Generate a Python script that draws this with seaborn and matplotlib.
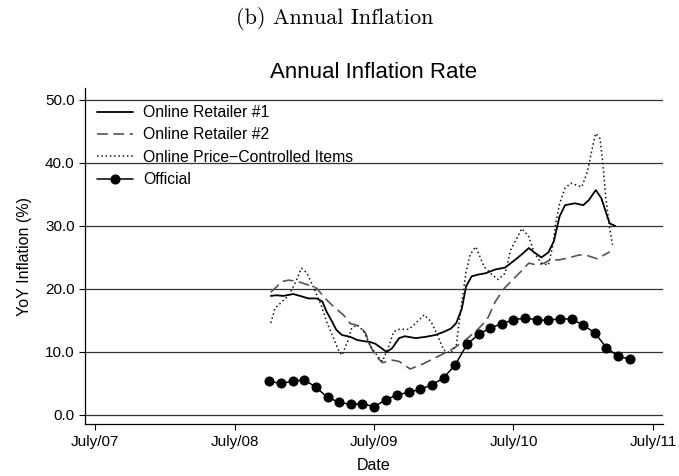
import numpy as np
import pandas as pd
import matplotlib
matplotlib.use("Agg")
import matplotlib.pyplot as plt
import seaborn as sns

# ---------------- data (decimal years, YoY %) ----------------
r1_t = [2008.76, 2008.80, 2008.85, 2008.92, 2008.97, 2009.03, 2009.09, 2009.13, 2009.16, 2009.20,
        2009.23, 2009.27, 2009.33, 2009.38, 2009.43, 2009.47, 2009.51, 2009.56, 2009.59, 2009.63,
        2009.68, 2009.72, 2009.80, 2009.87, 2009.94, 2009.99, 2010.05, 2010.09, 2010.13, 2010.16,
        2010.20, 2010.25, 2010.30, 2010.37, 2010.44, 2010.51, 2010.56, 2010.61, 2010.65, 2010.70,
        2010.75, 2010.79, 2010.83, 2010.87, 2010.94, 2011.00, 2011.04, 2011.09, 2011.13, 2011.17,
        2011.19, 2011.23]
r1_v = [18.9, 19.0, 18.9, 19.2, 18.9, 18.5, 18.5, 18.0, 16.4, 14.8,
        13.5, 12.7, 12.4, 11.9, 11.7, 11.6, 11.3, 10.5, 10.0, 10.6,
        12.2, 12.5, 12.2, 12.4, 12.7, 13.1, 13.7, 14.6, 16.9, 20.4,
        22.0, 22.3, 22.5, 23.1, 23.4, 24.6, 25.5, 26.5, 25.8, 25.0,
        25.8, 27.6, 31.5, 33.3, 33.6, 33.3, 34.1, 35.7, 34.4, 31.7,
        30.4, 30.0]

r2_t = [2008.76, 2008.80, 2008.84, 2008.89, 2008.95, 2009.02, 2009.09, 2009.15, 2009.21, 2009.28,
        2009.33, 2009.37, 2009.40, 2009.44, 2009.47, 2009.51, 2009.56, 2009.63, 2009.68, 2009.76,
        2009.86, 2009.95, 2010.05, 2010.14, 2010.24, 2010.31, 2010.37, 2010.43, 2010.50, 2010.55,
        2010.61, 2010.67, 2010.72, 2010.77, 2010.82, 2010.89, 2010.97, 2011.03, 2011.10, 2011.15,
        2011.19]
r2_v = [19.5, 20.3, 21.2, 21.4, 21.2, 20.7, 20.1, 18.5, 17.2, 15.9,
        14.5, 14.3, 14.0, 13.0, 11.1, 9.4, 8.3, 8.7, 8.5, 7.3,
        8.2, 9.2, 10.3, 11.6, 13.5, 15.1, 18.0, 20.0, 21.6, 22.7,
        24.1, 23.8, 24.1, 24.7, 24.6, 24.9, 25.4, 25.3, 24.8, 25.4,
        25.9]

pc_t = [2008.76, 2008.79, 2008.84, 2008.89, 2008.94, 2008.98, 2009.02, 2009.07, 2009.12, 2009.16,
        2009.21, 2009.25, 2009.27, 2009.31, 2009.34, 2009.38, 2009.43, 2009.47, 2009.52, 2009.56,
        2009.61, 2009.64, 2009.68, 2009.75, 2009.80, 2009.86, 2009.91, 2009.96, 2010.00, 2010.05,
        2010.09, 2010.12, 2010.16, 2010.19, 2010.23, 2010.29, 2010.35, 2010.39, 2010.44, 2010.48,
        2010.53, 2010.56, 2010.61, 2010.65, 2010.70, 2010.75, 2010.78, 2010.80, 2010.83, 2010.87,
        2010.91, 2010.95, 2010.99, 2011.03, 2011.07, 2011.09, 2011.12, 2011.14, 2011.16, 2011.19,
        2011.21]
pc_v = [14.6, 16.9, 18.0, 19.0, 21.2, 23.3, 22.5, 20.1, 17.5, 14.8,
        12.2, 10.0, 9.5, 11.6, 13.8, 14.3, 13.2, 11.1, 9.5, 8.5,
        11.1, 13.2, 13.6, 13.6, 14.6, 15.9, 14.8, 12.4, 10.3, 9.8,
        11.1, 16.4, 22.7, 25.5, 26.7, 23.5, 22.2, 21.5, 22.5, 26.2,
        28.3, 29.6, 28.3, 25.7, 24.1, 23.8, 26.7, 30.0, 33.5, 36.0,
        36.8, 36.5, 36.2, 38.6, 42.9, 44.7, 43.9, 40.2, 34.9, 29.6,
        27.0]

official_dates = pd.date_range("2008-10-01", "2011-05-01", freq="MS")
official_v = [5.35, 5.0, 5.35, 5.6, 4.4, 2.8, 2.0, 1.7, 1.8, 1.3,
              2.4, 3.2, 3.6, 4.1, 4.8, 5.9, 8.0, 11.2, 12.8, 13.8,
              14.5, 15.1, 15.4, 15.1, 15.0, 15.3, 15.2, 14.3, 13.0, 10.7,
              9.3, 8.9]
official_t = [d.year + (d.month - 1) / 12 for d in official_dates]

xtick_pos = [2007.5, 2008.5, 2009.5, 2010.5, 2011.5]
xtick_labels = ["July/07", "July/08", "July/09", "July/10", "July/11"]
ytick_pos = [0, 10, 20, 30, 40, 50]

# ---------------- style ----------------
sns.set_theme(style="ticks")
plt.rcParams["font.family"] = ["Liberation Sans", "DejaVu Sans"]
plt.rcParams["text.color"] = "black"
plt.rcParams["axes.labelcolor"] = "black"
plt.rcParams["xtick.color"] = "black"
plt.rcParams["ytick.color"] = "black"

fig = plt.figure(figsize=(6.79, 4.76), dpi=100)
ax = fig.add_axes([85 / 679, 1 - 424 / 476, (663 - 85) / 679, (424 - 88) / 476])

sns.lineplot(x=r1_t, y=r1_v, ax=ax, color="black", lw=1.3, sort=False,
             label="Online Retailer #1")
sns.lineplot(x=r2_t, y=r2_v, ax=ax, color="#555555", lw=1.2, sort=False,
             label="Online Retailer #2")
ax.lines[-1].set_linestyle((0, (6.5, 3.3)))
sns.lineplot(x=pc_t, y=pc_v, ax=ax, color="#111111", lw=1.1, sort=False,
             label="Online Price\u2212Controlled Items")
ax.lines[-1].set_linestyle((0, (1, 1.8)))
sns.lineplot(x=official_t, y=official_v, ax=ax, color="black", lw=1.1, sort=False,
             marker="o", markersize=6.5, markeredgecolor="black",
             markerfacecolor="black", label="Official")

ax.set_xlim(2007.428, 2011.572)
ax.set_ylim(-1.43, 51.9)
ax.set_xticks(xtick_pos)
ax.set_xticklabels(xtick_labels)
ax.set_yticks(ytick_pos)
ax.set_yticklabels([f"{v:.1f}" for v in ytick_pos])
ax.tick_params(axis="x", direction="out", length=4, width=0.8, labelsize=11, pad=4,
               color="black", labelcolor="black")
ax.tick_params(axis="y", direction="out", length=4.5, width=0.8, labelsize=11, pad=3,
               color="black", labelcolor="black")
for s in ["top", "right"]:
    ax.spines[s].set_visible(False)
for s in ["left", "bottom"]:
    ax.spines[s].set_color("black")
    ax.spines[s].set_linewidth(0.9)
ax.yaxis.grid(True, color="#333333", lw=0.9)
ax.xaxis.grid(False)
ax.set_axisbelow(True)

ax.set_xlabel("Date", fontsize=11.5, color="black")
ax.set_ylabel("YoY Inflation (%)", fontsize=11.5, color="black")
ax.xaxis.set_label_coords(0.5, -0.102)
ax.yaxis.set_label_coords(-0.092, 0.5)

leg = ax.legend(loc="upper left", bbox_to_anchor=(97 / 679, 1 - 105 / 476),
                bbox_transform=fig.transFigure, frameon=False, fontsize=11.3,
                handlelength=2.3, handletextpad=0.65, labelspacing=0.47,
                borderpad=0, borderaxespad=0)
for t in leg.get_texts():
    t.set_color("black")

fig.text(374 / 679, 1 - 72 / 476, "Annual Inflation Rate", ha="center", va="center",
         fontsize=16, color="black")
fig.text(335 / 679, 1 - 18 / 476, "(b) Annual Inflation", ha="center", va="center",
         fontsize=16, family="cmr10", color="black")

fig.savefig("out.png", dpi=100)
